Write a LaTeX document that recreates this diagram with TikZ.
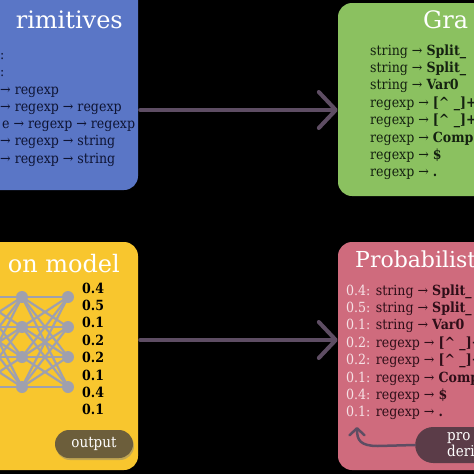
\documentclass[tikz,border=0pt]{standalone}
\usepackage{fontspec}
\setmainfont{DejaVu Serif}
\newfontfamily\rulefont{DejaVu Serif}[FakeStretch=0.9]
\usetikzlibrary{arrows.meta, positioning, shadows}
\definecolor{primblue}{HTML}{5A76C6}
\definecolor{gramgreen}{HTML}{8BC160}
\definecolor{modelyellow}{HTML}{F8C62E}
\definecolor{probpink}{HTML}{CF6B7D}
\definecolor{flowgray}{HTML}{5E4D63}
\definecolor{netgray}{HTML}{9FA0AE}
\definecolor{outbrown}{HTML}{6C5E3B}
\definecolor{derivmauve}{HTML}{5B3C48}
\definecolor{bluetext}{HTML}{0E1433}
\definecolor{greentext}{HTML}{142110}
\definecolor{pinktext}{HTML}{2E0E18}
\definecolor{pinktint}{HTML}{F6E2E6}

\begin{document}
\begin{tikzpicture}[x=1pt, y=-1pt,
    panel/.style={rounded corners=14pt, inner sep=0pt},
    heading/.style={text=white, inner sep=0pt, font=\fontsize{24}{28}\selectfont},
    rule/.style={anchor=base west, inner sep=0pt, font=\rulefont\fontsize{14}{16}\selectfont},
    score/.style={anchor=base west, inner sep=0pt, font=\rulefont\bfseries\fontsize{14}{16}\selectfont},
    flow/.style={draw=flowgray, line width=4pt, line cap=round,
                 -{Straight Barb[length=17pt, width=36pt, round]}},
    neuron/.style={circle, fill=netgray, inner sep=0pt, minimum size=12pt},
    synapse/.style={draw=netgray, line width=2.2pt},
    tag/.style={rounded corners=14pt, text=white, font=\rulefont\fontsize{15}{16}\selectfont}
  ]
    \useasboundingbox (0,0) rectangle (474,474);
    \clip (0,0) rectangle (474,474);
    \fill[black] (0,0) rectangle (474,474);

    % the four panels
    \node[panel, fill=primblue, minimum width=238pt, minimum height=210pt] (prim) at (19,85) {};
    \node[panel, fill=gramgreen, minimum width=282pt, minimum height=193pt] (gram) at (479,99.5) {};
    \node[panel, fill=modelyellow, minimum width=238pt, minimum height=228pt] (model) at (19,356) {};
    \node[panel, fill=probpink, minimum width=282pt, minimum height=228pt] (prob) at (479,356) {};

    % headings
    \node[heading, anchor=base east] (primtitle) at (123,28) {rimitives};
    \node[heading, anchor=base west] (gramtitle) at (423,28) {Gra};
    \node[heading, anchor=base east] (modeltitle) at (120,272) {on model};
    \node[heading, anchor=base west, font=\fontsize{22}{26}\selectfont] (probtitle) at (355,267) {Probabilist};

    % primitives
    \foreach \xo/\txt [count=\i] in {0/{:}, 0/{:}, 0/{→ regexp}, 0/{→ regexp → regexp},
        2/{e → regexp → regexp}, 0/{→ regexp → string}, 0/{→ regexp → string}}
      \node[rule, text=bluetext] (p\i) at (\xo, 59.4+17.3*\i-17.3) {\txt};

    % grammar
    \foreach \txt [count=\i] in {{string → \textbf{Split\_}}, {string → \textbf{Split\_}},
        {string → \textbf{Var0}}, {regexp → \textbf{[\textasciicircum\ \_]+}},
        {regexp → \textbf{[\textasciicircum\ \_]+}}, {regexp → \textbf{Comp}},
        {regexp → \textbf{\$}}, {regexp → \textbf{.}}}
      \node[rule, text=greentext] (g\i) at (370, 55+17.4*\i-17.4) {\txt};

    % probabilistic grammar
    \foreach \pr/\txt [count=\i] in {0.4/{string → \textbf{Split\_}}, 0.5/{string → \textbf{Split\_}},
        0.1/{string → \textbf{Var0}}, 0.2/{regexp → \textbf{[\textasciicircum\ \_]+}},
        0.2/{regexp → \textbf{[\textasciicircum\ \_]+}}, 0.1/{regexp → \textbf{Comp}},
        0.4/{regexp → \textbf{\$}}, 0.1/{regexp → \textbf{.}}}
      \node[rule, text=pinktext] (q\i) at (346, 295+17.4*\i-17.4) {\textcolor{pinktint}{\pr:} \txt};

    % network
    \foreach \cx [count=\c] in {-24,22,68}
      \foreach \cy [count=\r] in {297,327,357,387}
        \coordinate (n\c\r) at (\cx,\cy);
    \foreach \r in {1,...,4}
      \foreach \s in {1,...,4} {
        \draw[synapse] (n1\r) -- (n2\s);
        \draw[synapse] (n2\r) -- (n3\s);
      }
    \foreach \c in {1,2,3}
      \foreach \r in {1,...,4}
        \node[neuron] at (n\c\r) {};

    % scores
    \foreach \v [count=\i] in {0.4,0.5,0.1,0.2,0.2,0.1,0.4,0.1}
      \node[score] (s\i) at (82, 293+17.4*\i-17.4) {\v};

    \node[tag, fill=outbrown, minimum width=78pt, minimum height=28pt,
          drop shadow={shadow xshift=1pt, shadow yshift=-2pt, opacity=.45}] (output) at (94,444) {output};

    \node[tag, fill=derivmauve, anchor=west, align=left, inner xsep=32pt, inner ysep=3pt,
          rounded corners=18pt, minimum height=36pt] (deriv) at (415,445) {pro\\deri};

    % connectors
    \coordinate (toprow) at (0,110);
    \coordinate (botrow) at (0,340);
    \coordinate (looptip) at (357,427);
    \draw[flow, shorten <=2pt] (prim.east |- toprow) -- (gram.west |- toprow);
    \draw[flow, shorten <=2pt] (model.east |- botrow) -- (prob.west |- botrow);
    \draw[draw=flowgray, line width=2.5pt, line cap=round,
          -{Straight Barb[length=7pt, width=15pt, round]}]
      (deriv.west) -- (378,446) .. controls (360,446) and (357,440) .. (looptip);
\end{tikzpicture}
\end{document}
